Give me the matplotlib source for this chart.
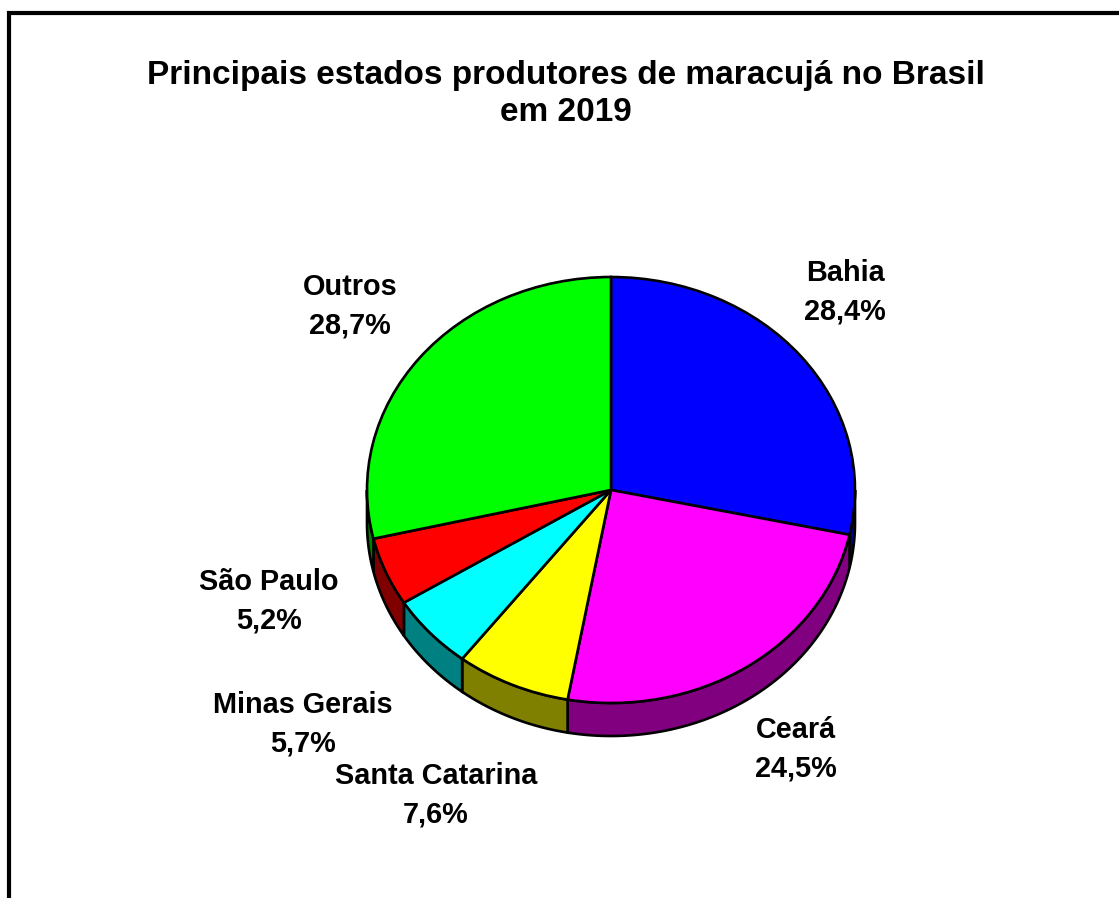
import numpy as np
import matplotlib.pyplot as plt
from matplotlib.lines import Line2D
from matplotlib.patches import Polygon

plt.rcParams['font.family'] = ['Liberation Sans', 'DejaVu Sans']

# data
states = ['Bahia', 'Ceará', 'Santa Catarina', 'Minas Gerais', 'São Paulo', 'Outros']
shares = [28.4, 24.5, 7.6, 5.7, 5.2, 28.7]
pct_labels = ['28,4%', '24,5%', '7,6%', '5,7%', '5,2%', '28,7%']
top_colors = ['#0000FF', '#FF00FF', '#FFFF00', '#00FFFF', '#FF0000', '#00FF00']
side_colors = ['#000080', '#800080', '#808000', '#008080', '#800000', '#008000']

# layout (pixels)
W, H = 1119, 898
cx, cy, rx, ry, depth = 611, 490, 244, 213, 33
label_px = [(845, 292), (796, 749), (436, 795), (303, 724), (269, 601), (350, 306)]

fig = plt.figure(figsize=(W / 100, H / 100), dpi=100)
ax = fig.add_axes([0, 0, 1, 1])

# top face of the pie
wedges, _ = ax.pie(shares, colors=top_colors, startangle=90, counterclock=False,
                   wedgeprops=dict(edgecolor='black', linewidth=1.9, zorder=3))
ax.set_aspect('auto')
ax.set_xlim(-cx / rx, (W - cx) / rx)
ax.set_ylim((cy - H) / ry, cy / ry)
ax.axis('off')

# visible side walls (lower half of the ellipse)
d = depth / ry
for w, col in zip(wedges, side_colors):
    for shift in (-360, 0, 360):
        a = max(w.theta1, -180 + shift)
        b = min(w.theta2, shift)
        if b <= a:
            continue
        t = np.radians(np.linspace(a, b, 120))
        xs, ys = np.cos(t), np.sin(t)
        pts = np.column_stack([np.r_[xs, xs[::-1]], np.r_[ys, ys[::-1] - d]])
        ax.add_patch(Polygon(pts, closed=True, facecolor=col, edgecolor='black',
                             linewidth=1.9, zorder=2))

# labels
for name, pct, (px, py) in zip(states, pct_labels, label_px):
    fig.text(px / W, 1 - py / H, f"{name}\n{pct}", ha='center', va='center',
             multialignment='center', fontsize=20.8, fontweight='bold', linespacing=1.46)

fig.text(566 / W, 1 - 94 / H, "Principais estados produtores de maracujá no Brasil\nem 2019",
         ha='center', va='center', multialignment='center', fontsize=24,
         fontweight='bold', linespacing=1.28)

# chart area frame (only top and left edges visible)
fig.add_artist(Line2D([9 / W, 9 / W, 1], [0, 1 - 13 / H, 1 - 13 / H], color='black',
                      linewidth=3, solid_joinstyle='miter', transform=fig.transFigure))

fig.savefig('out.png', dpi=100, facecolor='white')
